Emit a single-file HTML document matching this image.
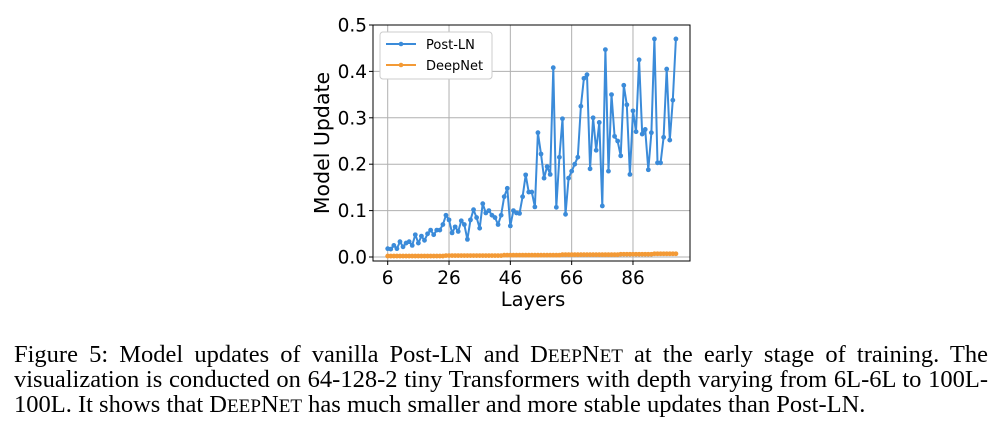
<!DOCTYPE html>
<html><head><meta charset="utf-8">
<style>
body{margin:0;background:#fff;width:1003px;height:433px;overflow:hidden;position:relative;font-family:"Liberation Sans",sans-serif}
.cap{position:absolute;left:14px;width:974px;font-family:"Liberation Serif",serif;font-size:24.5px;color:#000;white-space:nowrap;line-height:25px}
.j{text-align:justify;text-align-last:justify;white-space:normal}
.sc{font-size:0.78em}
</style></head><body>
<svg id="chart" width="1003" height="330" style="position:absolute;left:0;top:0" font-family="DejaVu Sans, Liberation Sans, sans-serif">
<g id="grid"></g>
<g id="series"></g>
<rect x="373" y="25" width="317" height="236" fill="none" stroke="#000" stroke-width="1"/>
<g id="ticks"></g>
<text x="533" y="306" font-size="19.5" text-anchor="middle">Layers</text>
<text transform="translate(329,143) rotate(-90)" font-size="20.5" text-anchor="middle">Model Update</text>
<g>
<rect x="380" y="32" width="112" height="47" rx="3" fill="#fff" stroke="#ccc"/>
<g><line x1="386" y1="44" x2="416" y2="44" stroke="#3b8bd9" stroke-width="2"/><circle cx="401" cy="44" r="2.3" fill="#3b8bd9"/><text x="426" y="49" font-size="13">Post-LN</text></g>
<g><line x1="386" y1="65" x2="416" y2="65" stroke="#f39a36" stroke-width="2"/><circle cx="401" cy="65" r="2.3" fill="#f39a36"/><text x="426" y="70" font-size="13">DeepNet</text></g>
</g>
</svg>
<div class="cap j" style="top:342px">Figure 5: Model updates of vanilla Post-LN and D<span class="sc">EEP</span>N<span class="sc">ET</span> at the early stage of training. The</div>
<div class="cap j" style="top:367px">visualization is conducted on 64-128-2 tiny Transformers with depth varying from 6L-6L to 100L-</div>
<div class="cap" style="top:392px">100L. It shows that D<span class="sc">EEP</span>N<span class="sc">ET</span> has much smaller and more stable updates than Post-LN.</div>
<script>
const firstLayer = 6;
const postLN = [0.018,0.017,0.025,0.018,0.033,0.022,0.03,0.033,0.025,0.048,0.03,0.045,0.036,0.05,0.058,0.048,0.058,0.058,0.07,0.09,0.08,0.052,0.065,0.055,0.078,0.07,
0.038,0.08,0.102,0.085,0.062,0.115,0.095,0.1,0.09,0.085,0.07,0.09,0.13,0.148,0.067,0.1,0.095,0.094,0.13,0.177,0.14,0.14,0.108,0.268,0.222,0.17,0.195,0.178,0.408,0.107,0.215,0.298,0.092,0.17,0.185,0.2,0.215,0.325,0.385,0.393,0.19,0.3,0.23,0.29,0.11,0.447,0.185,0.35,0.26,0.25,0.218,0.37,0.328,0.178,0.315,0.27,0.425,0.265,0.275,0.188,0.268,0.47,0.203,0.203,0.258,0.405,0.252,0.338,0.47];
const deepNet = [0.002,0.002,0.002,0.002,0.002,0.002,0.002,0.002,0.002,0.002,0.002,0.002,0.002,0.002,0.002,0.002,0.002,0.002,0.002,
0.003,0.003,0.003,0.003,0.003,0.003,0.003,0.003,0.003,0.003,0.003,0.003,0.003,0.003,0.003,0.003,0.003,0.003,0.003,
0.004,0.004,0.004,0.004,0.004,0.004,0.004,0.004,0.004,0.004,0.004,0.004,0.004,0.004,0.004,0.004,0.004,0.004,0.004,
0.005,0.005,0.005,0.005,0.005,0.005,0.005,0.005,0.005,0.005,0.005,0.005,0.005,0.005,0.005,0.005,0.005,0.005,0.005,
0.006,0.006,0.006,0.006,0.006,0.006,0.006,0.006,0.006,0.006,0.006,0.007,0.007,0.007,0.007,0.007,0.007,0.007,0.007];
const xTicks = [6,26,46,66,86];
const yTicks = [0,0.1,0.2,0.3,0.4,0.5];
const yTickLabels = ["0.0","0.1","0.2","0.3","0.4","0.5"];
const NS="http://www.w3.org/2000/svg";
const X = l => 387.7 + (l-6)*3.066;
const Y = v => 257 - v*464;
function mk(tag, attrs, parent){const e=document.createElementNS(NS,tag);for(const k in attrs)e.setAttribute(k,attrs[k]);parent.appendChild(e);return e;}
const grid=document.getElementById('grid'), ticks=document.getElementById('ticks'), ser=document.getElementById('series');
xTicks.forEach(t=>{
  const g=mk('line',{x1:X(t),x2:X(t),y1:25,y2:261,stroke:'#b0b0b0','stroke-width':1},grid);
  
  
  mk('line',{x1:X(t),x2:X(t),y1:261,y2:265,stroke:'#000'},ticks);
  const tx=mk('text',{x:X(t),y:284,'font-size':18.5,'text-anchor':'middle'},ticks);
  tx.textContent=t;
  
  
});
yTicks.forEach((t,i)=>{
  const g=mk('line',{x1:373,x2:690,y1:Y(t),y2:Y(t),stroke:'#b0b0b0','stroke-width':1},grid);
  
  
  mk('line',{x1:369,x2:373,y1:Y(t),y2:Y(t),stroke:'#000'},ticks);
  const tx=mk('text',{x:367,y:Y(t)+6.5,'font-size':18.5,'text-anchor':'end'},ticks);
  tx.textContent=yTickLabels[i];
  
  
});
function drawSeries(arr,color,name,lw,r){
  const pts=arr.map((v,i)=>X(firstLayer+i).toFixed(1)+','+Y(v).toFixed(1)).join(' ');
  const pl=mk('polyline',{points:pts,fill:'none',stroke:color,'stroke-width':lw,'stroke-linejoin':'round'},ser);
  
  
  arr.forEach((v,i)=>{
    const c=mk('circle',{cx:X(firstLayer+i),cy:Y(v),r:r,fill:color},ser);
    
    
  });
}
drawSeries(postLN,'#3b8bd9','post-ln',2,2.4);
drawSeries(deepNet,'#f39a36','deepnet',3,2.4);
</script>
</body></html>
